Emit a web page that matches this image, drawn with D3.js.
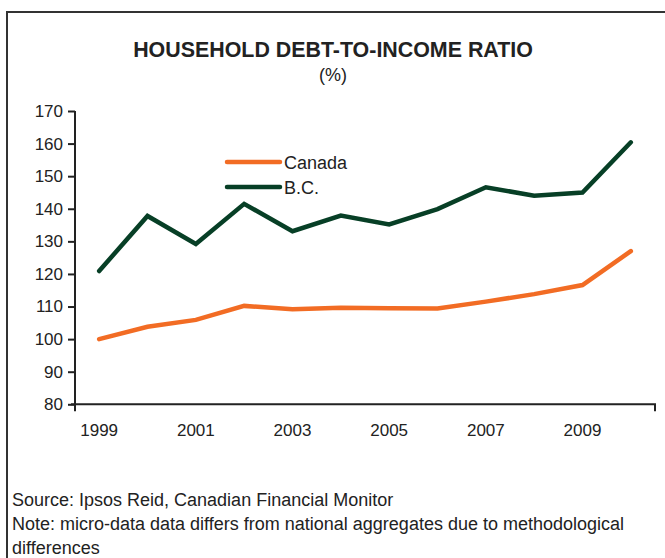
<!DOCTYPE html>
<html>
<head>
<meta charset="utf-8">
<script src="https://cdn.jsdelivr.net/npm/d3@7"></script>
<style>
  html, body { margin: 0; padding: 0; background: #fff; }
  svg { display: block; font-family: "Liberation Sans", Arial, sans-serif; }
</style>
</head>
<body>
<svg id="chart" width="665" height="558"></svg>
<script>
// Household debt-to-income ratio (%), 1999-2010
const years = [1999, 2000, 2001, 2002, 2003, 2004, 2005, 2006, 2007, 2008, 2009, 2010];
const canada = [100.0, 103.8, 105.9, 110.2, 109.2, 109.6, 109.5, 109.4, 111.5, 113.8, 116.6, 127.0];
const bc = [120.9, 137.8, 129.2, 141.5, 133.1, 137.9, 135.2, 139.9, 146.6, 144.0, 145.0, 160.4];
const yTicks = [80, 90, 100, 110, 120, 130, 140, 150, 160, 170];
const xLabels = [1999, 2001, 2003, 2005, 2007, 2009];
const seriesNames = ["Canada", "B.C."];
const seriesColors = ["#f26c24", "#073f26"];

const FONT = "Liberation Sans, Arial, sans-serif";
const INK = "#222";

const svg = d3.select("#chart");

// outer frame
svg.append("rect")
  .attr("x", 7).attr("y", 12)
  .attr("width", 700).attr("height", 600)
  .attr("fill", "none")
  .attr("stroke", "#333")
  .attr("stroke-width", 2);

// titles
svg.append("text")
  .attr("x", 333).attr("y", 57)
  .attr("text-anchor", "middle")
  .attr("font-size", 21.4).attr("font-weight", "bold")
  .attr("fill", INK)
  .text("HOUSEHOLD DEBT-TO-INCOME RATIO");
svg.append("text")
  .attr("x", 333).attr("y", 81)
  .attr("text-anchor", "middle")
  .attr("font-size", 18)
  .attr("fill", INK)
  .text("(%)");

const plotLeft = 75, plotRight = 655, plotTop = 111, plotBottom = 404.3;

const x = d3.scaleBand().domain(years).range([plotLeft, plotRight]);
const y = d3.scaleLinear().domain([80, 170]).range([plotBottom, plotTop]);

// y axis
const yAxis = svg.append("g")
  .attr("transform", `translate(${plotLeft},0)`)
  .call(d3.axisLeft(y).tickValues(yTicks).tickSize(7).tickPadding(5).tickFormat(d3.format("d")));
yAxis.select(".domain").attr("stroke", INK).attr("stroke-width", 2).attr("d", `M0,${plotTop}V${plotBottom}`);
yAxis.selectAll(".tick line").attr("stroke", INK).attr("stroke-width", 2);
yAxis.selectAll(".tick text")
  .attr("font-size", 17).attr("fill", INK)
  .attr("font-family", FONT);

// x axis
const xAxis = svg.append("g")
  .attr("transform", `translate(0,${plotBottom})`)
  .call(d3.axisBottom(x).tickValues(xLabels).tickSize(0).tickPadding(20));
xAxis.select(".domain").attr("stroke", INK).attr("stroke-width", 2)
  .attr("d", `M${plotLeft - 4},0H${plotRight}V7`);
xAxis.selectAll(".tick text")
  .attr("font-size", 17).attr("fill", INK)
  .attr("font-family", FONT);
xAxis.append("line")
  .attr("x1", plotLeft).attr("x2", plotLeft).attr("y1", 0).attr("y2", 7)
  .attr("stroke", INK).attr("stroke-width", 2);

// lines
const line = d3.line()
  .x((d, i) => x(years[i]) + x.bandwidth() / 2)
  .y(d => y(d));

[canada, bc].forEach((vals, i) => {
  svg.append("path")
    .datum(vals)
    .attr("d", line)
    .attr("fill", "none")
    .attr("stroke", seriesColors[i])
    .attr("stroke-width", 4.5)
    .attr("stroke-linejoin", "miter")
    .attr("stroke-linecap", "round");
});

// legend
seriesNames.forEach((name, i) => {
  const ly = 162 + i * 25;
  svg.append("line")
    .attr("x1", 227).attr("x2", 280)
    .attr("y1", ly).attr("y2", ly)
    .attr("stroke", seriesColors[i])
    .attr("stroke-width", 4.5)
    .attr("stroke-linecap", "round");
  svg.append("text")
    .attr("x", 284).attr("y", ly + 6.5)
    .attr("font-size", 18).attr("fill", INK)
    .text(name);
});

// footnotes
const notes = [
  "Source: Ipsos Reid, Canadian Financial Monitor",
  "Note: micro-data data differs from national aggregates due to methodological",
  "differences"
];
notes.forEach((t, i) => {
  svg.append("text")
    .attr("x", 12).attr("y", 506 + i * 24)
    .attr("font-size", 18).attr("fill", INK)
    .text(t);
});
</script>
</body>
</html>
